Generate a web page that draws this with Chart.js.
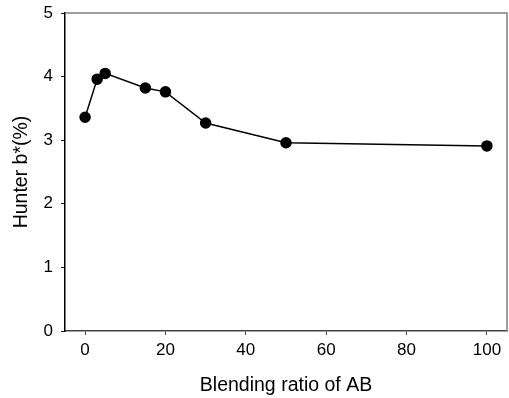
<!DOCTYPE html>
<html>
<head>
<meta charset="utf-8">
<script src="https://cdn.jsdelivr.net/npm/chart.js@4/dist/chart.umd.min.js"></script>
<style>
  html, body { margin: 0; padding: 0; background: #fff; }
  #wrap { width: 509px; height: 398px; }
</style>
</head>
<body>
<div id="wrap"><canvas id="myChart" width="509" height="398"></canvas></div>
<script>
// blending ratio of AB (x) and Hunter b* (y)
const blendRatio = [0, 3, 5, 15, 20, 30, 50, 100];
const hunterB = [3.36, 3.96, 4.05, 3.82, 3.76, 3.27, 2.96, 2.91];
const xTicks = [0, 20, 40, 60, 80, 100];
const yTicks = [0, 1, 2, 3, 4, 5];

const fontFamily = '"Liberation Sans", Arial, sans-serif';

// top + right frame lines
const frame = {
  id: 'frame',
  afterDraw(chart) {
    const a = chart.chartArea;
    const c = chart.ctx;
    c.save();
    c.strokeStyle = '#808080';
    c.lineWidth = 1.5;
    c.beginPath();
    c.moveTo(a.left, a.top);
    c.lineTo(a.right, a.top);
    c.lineTo(a.right, a.bottom);
    c.stroke();
    c.restore();
  }
};

const ctx = document.getElementById('myChart');

new Chart(ctx, {
  type: 'scatter',
  data: {
    datasets: [{
      data: blendRatio.map((x, i) => ({x: x, y: hunterB[i]})),
      showLine: true,
      borderColor: '#000',
      borderWidth: 1.5,
      backgroundColor: '#000',
      pointRadius: 5,
      pointHoverRadius: 5
    }]
  },
  options: {
    responsive: false,
    animation: false,
    layout: { autoPadding: false, padding: { top: 13, right: 2, left: 0, bottom: 0 } },
    scales: {
      x: {
        type: 'linear',
        min: -5,
        max: 105,
        afterBuildTicks: (s) => { s.ticks = xTicks.map(v => ({value: v})); },
        afterFit: (s) => { s.height = 67; s.paddingLeft = 0; s.paddingRight = 0; },
        grid: { drawOnChartArea: false, tickLength: 4, color: '#444', lineWidth: 1 },
        border: { color: '#444', width: 1.5 },
        ticks: { color: '#000', font: { family: fontFamily, size: 17 }, padding: 5 },
        title: { display: true, text: 'Blending ratio of AB', color: '#000',
                 font: { family: fontFamily, size: 19.5 }, padding: { top: 4, bottom: 1 } }
      },
      y: {
        min: 0,
        max: 5,
        afterBuildTicks: (s) => { s.ticks = yTicks.map(v => ({value: v})); },
        afterFit: (s) => { s.width = 65; s.paddingTop = 0; s.paddingBottom = 0; },
        grid: { drawOnChartArea: false, tickLength: 4, color: '#222', lineWidth: 1 },
        border: { color: '#000', width: 1.5 },
        ticks: { color: '#000', font: { family: fontFamily, size: 17 }, padding: 8 },
        title: { display: true, text: 'Hunter b*(%)', color: '#000',
                 font: { family: fontFamily, size: 19.5 }, padding: { top: 10, bottom: 4 } }
      }
    },
    plugins: {
      legend: { display: false },
      tooltip: { enabled: false }
    }
  },
  plugins: [frame]
});
</script>
</body>
</html>
